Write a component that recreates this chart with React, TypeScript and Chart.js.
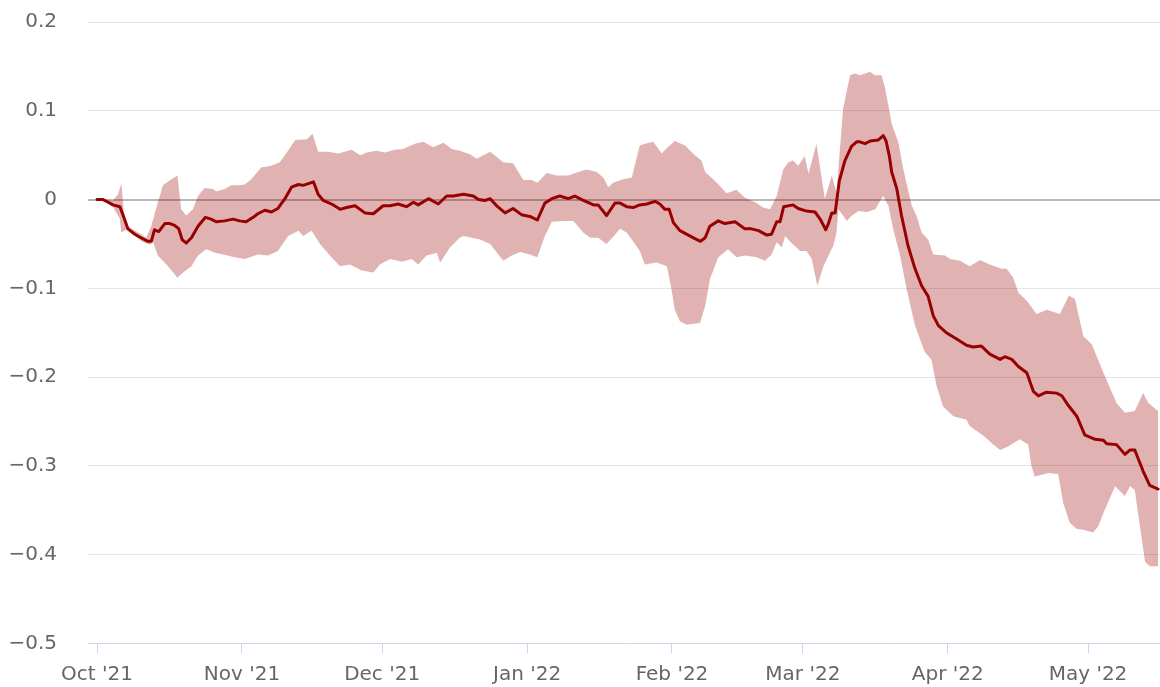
import React, { useEffect, useRef } from 'react';
import { Chart, registerables } from 'chart.js';

Chart.register(...registerables);

// x = days since 1 Oct 2021, y = value
const medianSeries: number[][] = [
  [0, 0], [1.3, 0], [2.4, -0.003], [3.4, -0.006], [4.9, -0.008], [5.6, -0.018], [6.6, -0.033], [8.1, -0.039],
  [9.4, -0.043], [10.9, -0.047], [11.6, -0.047], [12.3, -0.034], [13.2, -0.036], [14.5, -0.027], [15.6, -0.027],
  [16.6, -0.029], [17.5, -0.033], [18.2, -0.045], [19.1, -0.049], [20.2, -0.043], [21.6, -0.03], [23.2, -0.02],
  [24.4, -0.022], [25.5, -0.025], [27.3, -0.024], [29.1, -0.022], [30.5, -0.024], [31.9, -0.025], [33.4, -0.02],
  [34.4, -0.016], [35.9, -0.012], [37.3, -0.014], [38.7, -0.01], [40.2, 0.001], [41.6, 0.014], [43.1, 0.017],
  [44.1, 0.016], [46.3, 0.02], [47.3, 0.006], [48.4, -0.001], [50.2, -0.005], [52.0, -0.011], [53.4, -0.009],
  [55.2, -0.007], [57.3, -0.015], [59.1, -0.016], [61.2, -0.007], [62.7, -0.007], [64.4, -0.005], [66.2, -0.008],
  [67.7, -0.003], [68.7, -0.006], [70.9, 0.001], [73.0, -0.005], [74.8, 0.004], [76.2, 0.004], [78.4, 0.006],
  [80.5, 0.004], [81.6, 0.0], [83.0, -0.001], [84.1, 0.001], [85.5, -0.007], [87.3, -0.015], [89.0, -0.01],
  [90.8, -0.017], [92.6, -0.019], [94.2, -0.023], [95.8, -0.004], [97.3, 0.001], [99.0, 0.004], [100.8, 0.001],
  [102.2, 0.004], [103.7, 0.0], [106.2, -0.006], [107.2, -0.006], [109.0, -0.018], [110.8, -0.004], [111.9, -0.004],
  [113.3, -0.008], [114.7, -0.009], [116.1, -0.006], [117.6, -0.005], [119.4, -0.002], [120.4, -0.005],
  [121.5, -0.011], [122.4, -0.011], [123.3, -0.026], [124.7, -0.035], [126.5, -0.04], [127.9, -0.044],
  [129.1, -0.047], [130.1, -0.043], [131.1, -0.03], [132.9, -0.024], [134.3, -0.027], [136.5, -0.025],
  [138.6, -0.033], [140.0, -0.033], [141.5, -0.035], [143.3, -0.04], [144.3, -0.039], [145.4, -0.025],
  [146.1, -0.025], [146.9, -0.008], [148.9, -0.006], [150.0, -0.01], [151.8, -0.013], [153.6, -0.014],
  [154.7, -0.022], [155.9, -0.034], [156.4, -0.028], [157.2, -0.015], [157.9, -0.015], [158.8, 0.021],
  [160.0, 0.044], [161.4, 0.06], [162.5, 0.065], [163.2, 0.065], [164.3, 0.063], [165.4, 0.066], [167.1, 0.067],
  [168.2, 0.072], [168.8, 0.066], [169.5, 0.049], [170.0, 0.031], [171.1, 0.012], [172.1, -0.018], [173.5, -0.052],
  [175.0, -0.078], [176.4, -0.097], [177.8, -0.109], [178.9, -0.131], [180.0, -0.142], [181.7, -0.15],
  [183.9, -0.157], [186.0, -0.164], [187.4, -0.166], [189.2, -0.165], [191.0, -0.174], [193.2, -0.18],
  [194.2, -0.177], [195.7, -0.18], [197.1, -0.188], [198.9, -0.195], [200.3, -0.216], [201.4, -0.221],
  [203.1, -0.217], [205.3, -0.218], [206.4, -0.221], [207.8, -0.232], [209.6, -0.244], [211.3, -0.265],
  [213.5, -0.27], [215.3, -0.271], [216.0, -0.275], [218.1, -0.276], [219.9, -0.287], [221.0, -0.282],
  [222.0, -0.282], [223.8, -0.306], [225.2, -0.322], [227.0, -0.326],
];

const upperSeries: number[][] = [
  [0.2, 0], [3.4, -0.001], [4.5, 0.006], [5.2, 0.018], [5.8, -0.018], [6.6, -0.03], [8.8, -0.037], [10.5, -0.043],
  [11.6, -0.03], [12.7, -0.009], [14.1, 0.016], [15.9, 0.023], [17.2, 0.027], [18.0, -0.011], [19.1, -0.018],
  [20.5, -0.011], [21.6, 0.004], [23.0, 0.013], [24.8, 0.012], [25.5, 0.009], [27.3, 0.012], [28.7, 0.016],
  [30.2, 0.016], [31.6, 0.017], [33.0, 0.023], [35.1, 0.036], [37.3, 0.038], [39.1, 0.042], [40.6, 0.053],
  [42.4, 0.067], [44.9, 0.068], [46.1, 0.074], [47.3, 0.054], [49.5, 0.054], [51.6, 0.052], [54.5, 0.056],
  [56.3, 0.05], [57.7, 0.053], [59.8, 0.055], [61.6, 0.053], [63.7, 0.056], [65.5, 0.057], [68.0, 0.063],
  [69.8, 0.065], [71.9, 0.059], [74.1, 0.064], [75.9, 0.057], [77.6, 0.055], [79.8, 0.051], [81.2, 0.046],
  [84.1, 0.054], [86.9, 0.042], [89.0, 0.041], [91.2, 0.022], [93.0, 0.022], [94.2, 0.019], [96.2, 0.03],
  [98.3, 0.027], [100.8, 0.027], [103.0, 0.031], [104.7, 0.034], [106.9, 0.031], [108.3, 0.025], [109.4, 0.014],
  [110.4, 0.019], [112.6, 0.023], [114.4, 0.025], [115.3, 0.044], [116.1, 0.061], [117.2, 0.063], [119.0, 0.065],
  [120.8, 0.052], [121.9, 0.058], [123.6, 0.066], [125.8, 0.061], [127.9, 0.05], [129.3, 0.044], [130.1, 0.031],
  [132.6, 0.019], [134.7, 0.007], [136.8, 0.011], [138.6, 0.002], [141.1, -0.004], [142.5, -0.009], [144.0, -0.011],
  [145.4, 0.004], [146.8, 0.034], [147.9, 0.042], [148.9, 0.044], [150.0, 0.038], [151.4, 0.049], [152.2, 0.029],
  [153.9, 0.063], [155.7, 0.001], [157.2, 0.027], [158.2, 0.008], [159.6, 0.102], [161.1, 0.14], [162.1, 0.142],
  [163.2, 0.14], [164.3, 0.142], [165.4, 0.144], [166.4, 0.14], [167.8, 0.14], [168.5, 0.128], [169.3, 0.106],
  [170.0, 0.085], [171.4, 0.065], [172.5, 0.034], [174.3, -0.007], [175.3, -0.018], [176.4, -0.037], [177.8, -0.045],
  [178.9, -0.062], [181.4, -0.063], [182.5, -0.067], [184.6, -0.069], [186.7, -0.075], [188.9, -0.068],
  [191.0, -0.073], [193.5, -0.078], [194.6, -0.078], [196.0, -0.088], [197.1, -0.105], [198.9, -0.114],
  [201.0, -0.129], [203.2, -0.124], [206.0, -0.129], [207.9, -0.108], [209.2, -0.112], [211.0, -0.154],
  [212.8, -0.163], [215.3, -0.195], [218.1, -0.229], [219.9, -0.24], [222.0, -0.238], [223.8, -0.218],
  [224.9, -0.229], [227.0, -0.238],
];

const lowerSeries: number[][] = [
  [0.2, 0], [1.3, -0.001], [3.4, -0.008], [4.9, -0.022], [5.2, -0.037], [6.6, -0.033], [8.1, -0.041], [9.5, -0.047],
  [11.3, -0.051], [12.0, -0.048], [13.0, -0.063], [15.2, -0.075], [17.2, -0.088], [18.4, -0.082], [20.2, -0.075],
  [21.6, -0.063], [23.4, -0.056], [25.2, -0.06], [27.0, -0.062], [29.5, -0.065], [31.6, -0.067], [34.4, -0.062],
  [36.6, -0.063], [38.7, -0.058], [40.9, -0.041], [43.1, -0.035], [44.1, -0.041], [45.9, -0.035], [47.7, -0.05],
  [49.8, -0.063], [52.0, -0.075], [54.1, -0.073], [56.6, -0.08], [59.1, -0.082], [60.5, -0.073], [62.7, -0.067],
  [65.2, -0.07], [67.3, -0.067], [68.7, -0.073], [70.5, -0.063], [72.7, -0.06], [73.4, -0.071], [75.5, -0.054],
  [77.6, -0.043], [78.4, -0.041], [81.9, -0.045], [84.1, -0.05], [86.9, -0.069], [88.7, -0.063], [90.5, -0.059],
  [92.6, -0.062], [94.2, -0.065], [95.8, -0.041], [97.3, -0.025], [99.7, -0.024], [101.9, -0.024], [104.0, -0.037],
  [105.5, -0.043], [107.2, -0.043], [109.0, -0.05], [110.4, -0.042], [111.9, -0.033], [113.3, -0.037],
  [115.1, -0.05], [116.1, -0.058], [117.2, -0.073], [119.7, -0.071], [121.9, -0.075], [122.9, -0.101],
  [123.6, -0.124], [124.7, -0.137], [126.1, -0.141], [129.0, -0.139], [130.1, -0.12], [131.1, -0.09],
  [132.9, -0.065], [135.0, -0.056], [136.8, -0.065], [138.6, -0.063], [141.1, -0.065], [142.9, -0.069],
  [144.3, -0.062], [145.4, -0.048], [146.5, -0.054], [147.2, -0.041], [148.2, -0.047], [150.4, -0.058],
  [151.8, -0.058], [152.9, -0.067], [154.1, -0.097], [155.4, -0.075], [157.5, -0.052], [158.2, -0.037],
  [158.6, -0.011], [160.4, -0.024], [161.5, -0.018], [162.9, -0.013], [164.7, -0.014], [166.5, -0.011],
  [167.5, -0.002], [168.2, 0.004], [169.3, -0.007], [170.3, -0.033], [171.8, -0.063], [173.2, -0.101],
  [175.0, -0.142], [177.1, -0.172], [178.5, -0.18], [179.6, -0.21], [181.0, -0.233], [183.2, -0.244],
  [186.0, -0.248], [186.7, -0.255], [189.9, -0.267], [191.7, -0.276], [193.2, -0.282], [194.9, -0.278],
  [197.4, -0.27], [199.2, -0.276], [199.9, -0.3], [200.6, -0.312], [202.1, -0.31], [203.5, -0.308],
  [205.6, -0.309], [206.7, -0.342], [208.1, -0.364], [209.6, -0.371], [211.0, -0.372], [213.1, -0.375],
  [214.2, -0.368], [215.3, -0.353], [217.8, -0.323], [219.9, -0.334], [221.0, -0.323], [222.0, -0.327],
  [223.1, -0.368], [224.2, -0.408], [225.2, -0.413], [227.0, -0.413],
];

// month starts, in days since 1 Oct 2021
const monthTickDays = [0, 31, 61, 92, 123, 151, 182, 212];
const monthTickLabels = ["Oct '21", "Nov '21", "Dec '21", "Jan '22", "Feb '22", "Mar '22", "Apr '22", "May '22"];
const yTickValues = [-0.5, -0.4, -0.3, -0.2, -0.1, 0, 0.1, 0.2];

const FONT = 'DejaVu Sans';

function fmtY(v: number): string {
  if (Math.abs(v) < 1e-9) return '0';
  const s = Math.abs(v).toFixed(1);
  return v < 0 ? '\u2212' + s : s;
}

export default function App() {
  const ref = useRef<HTMLCanvasElement>(null);

  useEffect(() => {
    document.body.style.margin = '0';
    const toPts = (a: number[][]) => a.map(([x, y]) => ({ x, y }));
    const isVal = (ctx: any, t: number) => Math.abs((ctx.tick?.value ?? 99) - t) < 1e-9;
    const chart = new Chart(ref.current as HTMLCanvasElement, {
      type: 'line',
      data: {
        datasets: [
          {
            label: 'Median',
            data: toPts(medianSeries),
            borderColor: '#990000',
            borderWidth: 3,
            pointRadius: 0,
            fill: false,
            tension: 0,
            borderJoinStyle: 'round',
            borderCapStyle: 'round',
          },
          {
            label: 'Lower',
            data: toPts(lowerSeries),
            borderColor: 'rgba(0,0,0,0)',
            borderWidth: 0,
            pointRadius: 0,
            fill: false,
            tension: 0,
          },
          {
            label: 'Upper',
            data: toPts(upperSeries),
            borderColor: 'rgba(0,0,0,0)',
            borderWidth: 0,
            pointRadius: 0,
            fill: 1,
            backgroundColor: 'rgba(153,0,0,0.3)',
            tension: 0,
          },
        ] as any,
      },
      options: {
        responsive: false,
        animation: false,
        layout: { padding: { top: 22, right: 0, bottom: 0, left: 0 } },
        plugins: {
          legend: { display: false },
          tooltip: { enabled: false },
        },
        scales: {
          x: {
            type: 'linear',
            min: -1.93,
            max: 227.4,
            afterBuildTicks: (s: any) => {
              s.ticks = monthTickDays.map((v) => ({ value: v }));
            },
            afterFit: (s: any) => {
              s.height = 43.5;
            },
            grid: {
              drawOnChartArea: false,
              drawTicks: true,
              tickLength: 10,
              color: '#ccd6eb',
              lineWidth: 1,
            },
            border: { display: true, color: '#ccd6eb', width: 1 },
            ticks: {
              color: '#666666',
              font: { family: FONT, size: 20 },
              padding: 9,
              maxRotation: 0,
              autoSkip: false,
              callback: (_v: any, i: number) => monthTickLabels[i] ?? '',
            },
          },
          y: {
            type: 'linear',
            min: -0.5,
            max: 0.2,
            afterBuildTicks: (s: any) => {
              s.ticks = yTickValues.map((v) => ({ value: v }));
            },
            afterFit: (s: any) => {
              s.width = 88;
              s.paddingTop = 0;
              s.paddingBottom = 0;
            },
            grid: {
              drawTicks: false,
              color: (ctx: any) =>
                isVal(ctx, 0) ? '#b8b8b8' : isVal(ctx, -0.5) ? 'rgba(0,0,0,0)' : '#e6e6e6',
              lineWidth: (ctx: any) => (isVal(ctx, 0) ? 2 : 1),
            },
            border: { display: false },
            ticks: {
              color: '#666666',
              font: { family: FONT, size: 20 },
              padding: 31,
              callback: (v: any) => fmtY(Number(v)),
            },
          },
        },
      } as any,
    });
    return () => chart.destroy();
  }, []);

  return (
    <div style={{ position: 'absolute', left: 0, top: 0, width: 1160, height: 687 }}>
      <canvas ref={ref} width={1160} height={687} style={{ display: 'block' }} />
    </div>
  );
}
